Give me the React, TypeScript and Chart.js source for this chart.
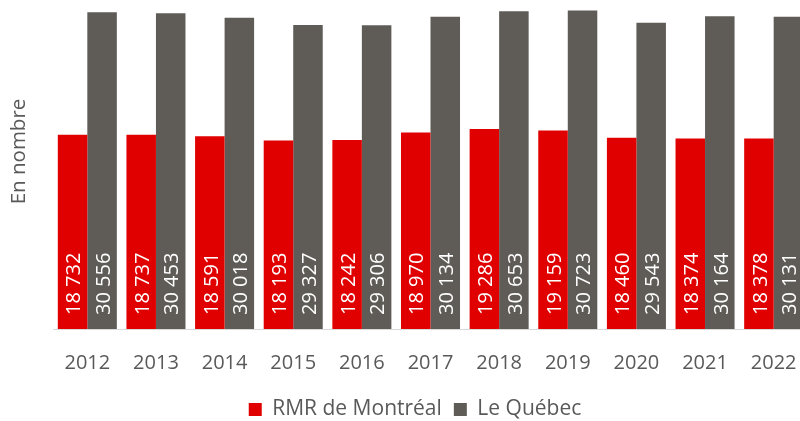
import React, { useEffect, useRef } from "react";
import { Chart, registerables } from "chart.js";

Chart.register(...registerables);

const years = ["2012", "2013", "2014", "2015", "2016", "2017", "2018", "2019", "2020", "2021", "2022"];
const montreal = [18732, 18737, 18591, 18193, 18242, 18970, 19286, 19159, 18460, 18374, 18378];
const quebec = [30556, 30453, 30018, 29327, 29306, 30134, 30653, 30723, 29543, 30164, 30131];
const seriesNames = ["RMR de Montréal", "Le Québec"];
const yTitle = "En nombre";

const RED = "#E00000";
const GREY = "#5F5C57";
const TEXT = "#595959";
const FONT = "'Open Sans', 'Noto Sans', sans-serif";

const fmt = (n: number) => String(n).replace(/\B(?=(\d{3})+(?!\d))/g, " ");

const valueLabels = {
  id: "valueLabels",
  afterLayout(chart: any) {
    if (chart.legend) {
      chart.legend.left += 11;
      chart.legend.right += 11;
    }
  },
  afterDatasetsDraw(chart: any) {
    const ctx = chart.ctx;
    ctx.save();
    ctx.fillStyle = "#FFFFFF";
    ctx.font = `20px ${FONT}`;
    ctx.textAlign = "left";
    ctx.textBaseline = "middle";
    chart.data.datasets.forEach((ds: any, di: number) => {
      const meta = chart.getDatasetMeta(di);
      meta.data.forEach((bar: any, i: number) => {
        const v = ds.data[i];
        ctx.save();
        ctx.translate(bar.x + 2, bar.base - 14);
        ctx.rotate(-Math.PI / 2);
        ctx.fillText(fmt(v), 0, 0);
        ctx.restore();
      });
    });
    ctx.restore();
  },
};

export default function App() {
  const ref = useRef<HTMLCanvasElement | null>(null);
  useEffect(() => {
    if (!ref.current) return;
    const chart = new Chart(ref.current, {
      type: "bar",
      data: {
        labels: years,
        datasets: [
          { label: seriesNames[0], data: montreal, backgroundColor: RED, borderWidth: 0 },
          { label: seriesNames[1], data: quebec, backgroundColor: GREY, borderWidth: 0 },
        ],
      },
      options: {
        responsive: false,
        animation: false,
        devicePixelRatio: 1,
        datasets: { bar: { barPercentage: 1, categoryPercentage: 0.86 } },
        layout: { padding: 0 },
        font: { family: FONT },
        plugins: {
          tooltip: { enabled: false },
          legend: {
            position: "bottom",
            align: "center",
            title: { display: true, text: " ", font: { size: 1 }, padding: { top: 13.3, bottom: 0 } },
            labels: {
              color: TEXT,
              font: { size: 21, family: FONT },
              boxWidth: 13,
              boxHeight: 13,
              padding: 12,
            },
          },
        },
        scales: {
          x: {
            grid: { display: false, drawTicks: false },
            border: { display: true, color: "#D9D9D9", width: 1 },
            ticks: { color: TEXT, font: { size: 20, family: FONT }, padding: 22, maxRotation: 0 },
            afterFit: (s: any) => {
              s.height = 43.5;
              s.paddingLeft = 0;
              s.paddingRight = 0;
            },
          },
          y: {
            min: 0,
            max: 34250,
            grid: { display: false, drawTicks: false },
            border: { display: false },
            ticks: { display: false },
            title: {
              display: true,
              text: yTitle,
              color: TEXT,
              font: { size: 20.5, family: FONT },
              padding: { top: 7.2, bottom: 0 },
            },
            afterFit: (s: any) => {
              s.width = 53;
              s.paddingTop = 0;
              s.paddingBottom = 0;
            },
          },
        },
      },
      plugins: [valueLabels],
    } as any);
    return () => chart.destroy();
  }, []);
  return (
    <div
      style={{
        position: "fixed",
        left: 0,
        top: 0,
        width: 800,
        height: 421,
        overflow: "hidden",
        background: "#FFFFFF",
      }}
    >
      <canvas
        ref={ref}
        width={808}
        height={456}
        style={{ position: "absolute", left: 0, top: -26, width: 808, height: 456 }}
      />
    </div>
  );
}
